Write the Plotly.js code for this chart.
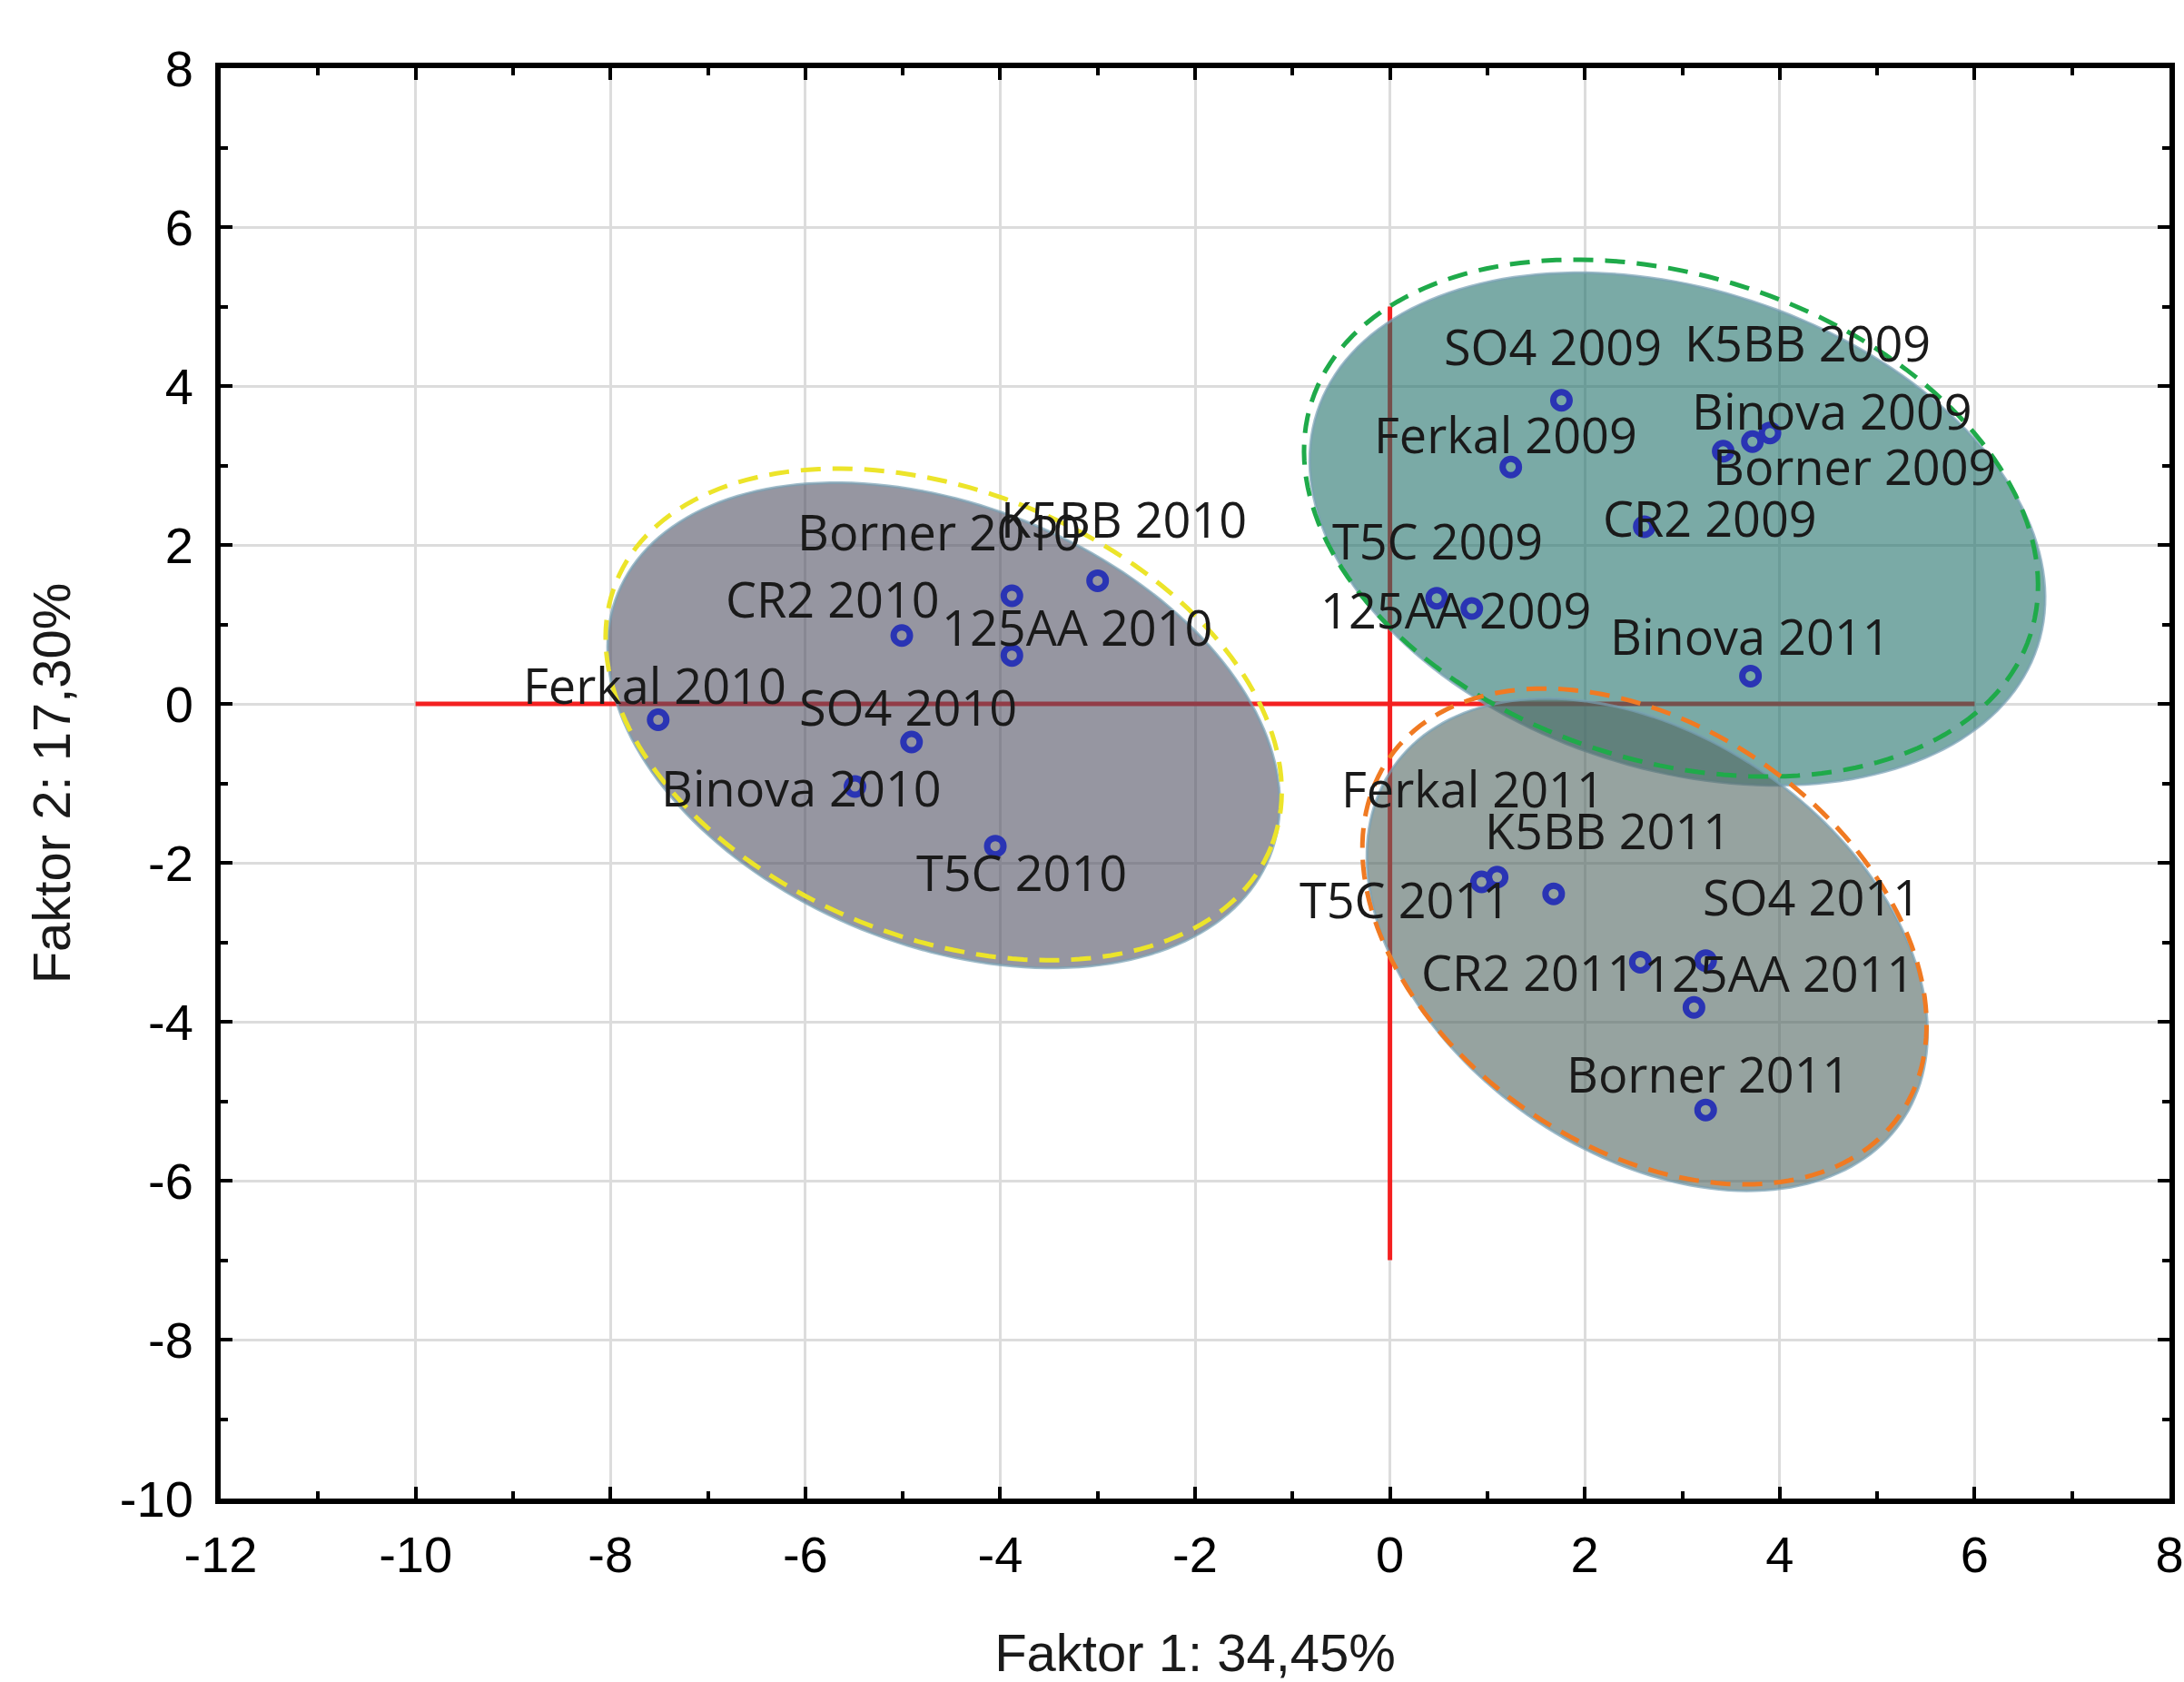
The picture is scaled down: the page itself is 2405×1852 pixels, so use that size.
<!DOCTYPE html>
<html>
<head>
<meta charset="utf-8">
<script src="https://cdn.plot.ly/plotly-3.0.1.min.js"></script>
<style>html,body{margin:0;padding:0;background:#fff;}</style>
</head>
<body>
<div id="chart" style="width:2405px;height:1852px;"></div>
<script>
// ---- data ----
const pointLabels = [
  "SO4 2009","K5BB 2009","Binova 2009","Borner 2009","Ferkal 2009","CR2 2009","T5C 2009","125AA 2009",
  "Binova 2011",
  "K5BB 2010","Borner 2010","125AA 2010","CR2 2010","Ferkal 2010","SO4 2010","Binova 2010","T5C 2010",
  "Ferkal 2011","T5C 2011","K5BB 2011","CR2 2011","125AA 2011","SO4 2011","Borner 2011"
];
const factor1 = [
  1.76, 3.90, 3.72, 3.42, 1.24, 2.61, 0.48, 0.84,
  3.70,
  -3.00, -3.88, -3.88, -5.01, -7.51, -4.91, -5.49, -4.05,
  1.10, 0.94, 1.68, 2.57, 3.24, 3.12, 3.24
];
const factor2 = [
  3.82, 3.41, 3.30, 3.18, 2.98, 2.23, 1.33, 1.20,
  0.35,
  1.55, 1.36, 0.61, 0.86, -0.20, -0.48, -1.04, -1.79,
  -2.18, -2.24, -2.39, -3.25, -3.23, -3.82, -5.11
];
// axis ticks
const xTickVals = [-12, -10, -8, -6, -4, -2, 0, 2, 4, 6, 8];
const xTickText = ["-12", "-10", "-8", "-6", "-4", "-2", "0", "2", "4", "6", "8"];
const yTickVals = [-10, -8, -6, -4, -2, 0, 2, 4, 6, 8];
const yTickText = ["-10", "-8", "-6", "-4", "-2", "0", "2", "4", "6", "8"];
// reference lines
const refH = {y: 0, x: [-10, 6]};
const refV = {x: 0, y: [-7, 5]};
// group ellipses (centre in data units)
const ellipseGroups = ["2009", "2010", "2011"];
const ellipseCx = [2.95, -4.58, 2.64];
const ellipseCy = [2.20, -0.27, -3.03];

// ---- presentation ----
const labelShift = [
  [-9,60],[41,100],[88,34],[144,-16],[-6,36],[72,10],[1,64],[-18,-1],
  [0,44],
  [29,68],[-80,71],[72,32],[-76,41],[-4,39],[-4,39],[-59,-1],[29,-28],
  [-27,98],[-84,-19],[60,70],[-123,-11],[81,-13],[130,122],[3,40]
];
// fill ellipse geometry in screen px: semi-axes and tilt
const ellGeom = [
  {a:417, b:264, th:18, fill:'rgba(33,113,107,0.6)', dashCol:'#1faa4a', dshift:[-7,-12], da:416, db:267},
  {a:387, b:242, th:22, fill:'rgba(80,80,98,0.6)',  dashCol:'#ece42a', dshift:[0,-12], da:389, db:246},
  {a:341, b:229, th:35, fill:'rgba(80,102,97,0.6)', dashCol:'#f07a22', dshift:[-3,-9], da:343, db:231}
];

const W = 2405, H = 1852;
const M = {l:243, r:16, t:75, b:202};
const xr = [-12, 8], yr = [-10, 8];
const kx = (W - M.l - M.r) / (xr[1] - xr[0]);
const ky = (H - M.t - M.b) / (yr[1] - yr[0]);

function ellipsePath(cx, cy, a, b, thDeg) {
  const th = thDeg * Math.PI / 180;
  const n = 180;
  let d = '';
  for (let i = 0; i <= n; i++) {
    const t = 2 * Math.PI * i / n;
    const sx = a * Math.cos(t) * Math.cos(th) - b * Math.sin(t) * Math.sin(th);
    const sy = a * Math.cos(t) * Math.sin(th) + b * Math.sin(t) * Math.cos(th);
    const x = cx + sx / kx, y = cy - sy / ky;
    d += (i === 0 ? 'M' : 'L') + x.toFixed(4) + ',' + y.toFixed(4);
  }
  return d + 'Z';
}

const shapes = [];
shapes.push({type:'line', layer:'between', xref:'x', yref:'y', x0:refH.x[0], x1:refH.x[1], y0:refH.y, y1:refH.y, line:{color:'#f42020', width:5}});
shapes.push({type:'line', layer:'between', xref:'x', yref:'y', x0:refV.x, x1:refV.x, y0:refV.y[0], y1:refV.y[1], line:{color:'#f42020', width:5}});
ellipseGroups.forEach((g, i) => {
  const e = ellGeom[i];
  shapes.push({type:'path', layer:'between', xref:'x', yref:'y',
    path: ellipsePath(ellipseCx[i], ellipseCy[i], e.a, e.b, e.th),
    fillcolor: e.fill, line:{color:'rgba(120,160,180,0.7)', width:3}});
});
ellipseGroups.forEach((g, i) => {
  const e = ellGeom[i];
  shapes.push({type:'path', layer:'between', xref:'x', yref:'y',
    path: ellipsePath(ellipseCx[i] + e.dshift[0]/kx, ellipseCy[i] - e.dshift[1]/ky, e.da, e.db, e.th),
    fillcolor:'rgba(0,0,0,0)', line:{color:e.dashCol, width:5, dash:'22px,13px'}});
});

const annotations = pointLabels.map((lab, i) => ({
  x: factor1[i], y: factor2[i], xref:'x', yref:'y', text: lab, showarrow:false,
  xanchor:'center', yanchor:'middle', xshift: labelShift[i][0], yshift: labelShift[i][1],
  font:{family:'Open Sans, sans-serif', size:54, color:'#1a1a1a'}
}));

const trace = {
  type:'scatter', mode:'markers', x: factor1, y: factor2, text: pointLabels,
  marker:{symbol:'circle-open', size:18, color:'#2a34b4', line:{width:7, color:'#2a34b4'}},
  hoverinfo:'text', showlegend:false
};

const tickFont = {family:'Liberation Sans, Arial, sans-serif', size:56, color:'#000'};
const layout = {
  width: W, height: H,
  margin: M,
  paper_bgcolor:'#fff', plot_bgcolor:'#fff',
  showlegend:false,
  xaxis: {
    range: xr, tickmode:'array', tickvals: xTickVals, ticktext: xTickText,
    ticks:'inside', ticklen:13, tickwidth:4, tickcolor:'#000',
    minor:{ticks:'inside', ticklen:8, tickwidth:4, tick0:-12, dtick:1, tickcolor:'#000', showgrid:false},
    showline:true, linewidth:6, linecolor:'#000', mirror:'ticks',
    showgrid:true, gridcolor:'#dcdcdc', gridwidth:3, zeroline:false,
    tickfont: tickFont, ticklabelstandoff: 8,
    title:{text:'Faktor 1: 34,45%', font:{family:'Liberation Sans, Arial, sans-serif', size:58, color:'#1a1a1a'}, standoff:96}
  },
  yaxis: {
    range: yr, tickmode:'array', tickvals: yTickVals, ticktext: yTickText,
    ticks:'inside', ticklen:13, tickwidth:4, tickcolor:'#000',
    minor:{ticks:'inside', ticklen:8, tickwidth:4, tick0:-10, dtick:1, tickcolor:'#000', showgrid:false},
    showline:true, linewidth:6, linecolor:'#000', mirror:'ticks',
    showgrid:true, gridcolor:'#dcdcdc', gridwidth:3, zeroline:false,
    tickfont: tickFont, ticklabelstandoff: 13,
    title:{text:'Faktor 2: 17,30%', font:{family:'Liberation Sans, Arial, sans-serif', size:58, color:'#1a1a1a'}, standoff:38}
  },
  shapes: shapes,
  annotations: annotations
};

Plotly.newPlot('chart', [trace], layout, {staticPlot:true, displayModeBar:false});
</script>
</body>
</html>
